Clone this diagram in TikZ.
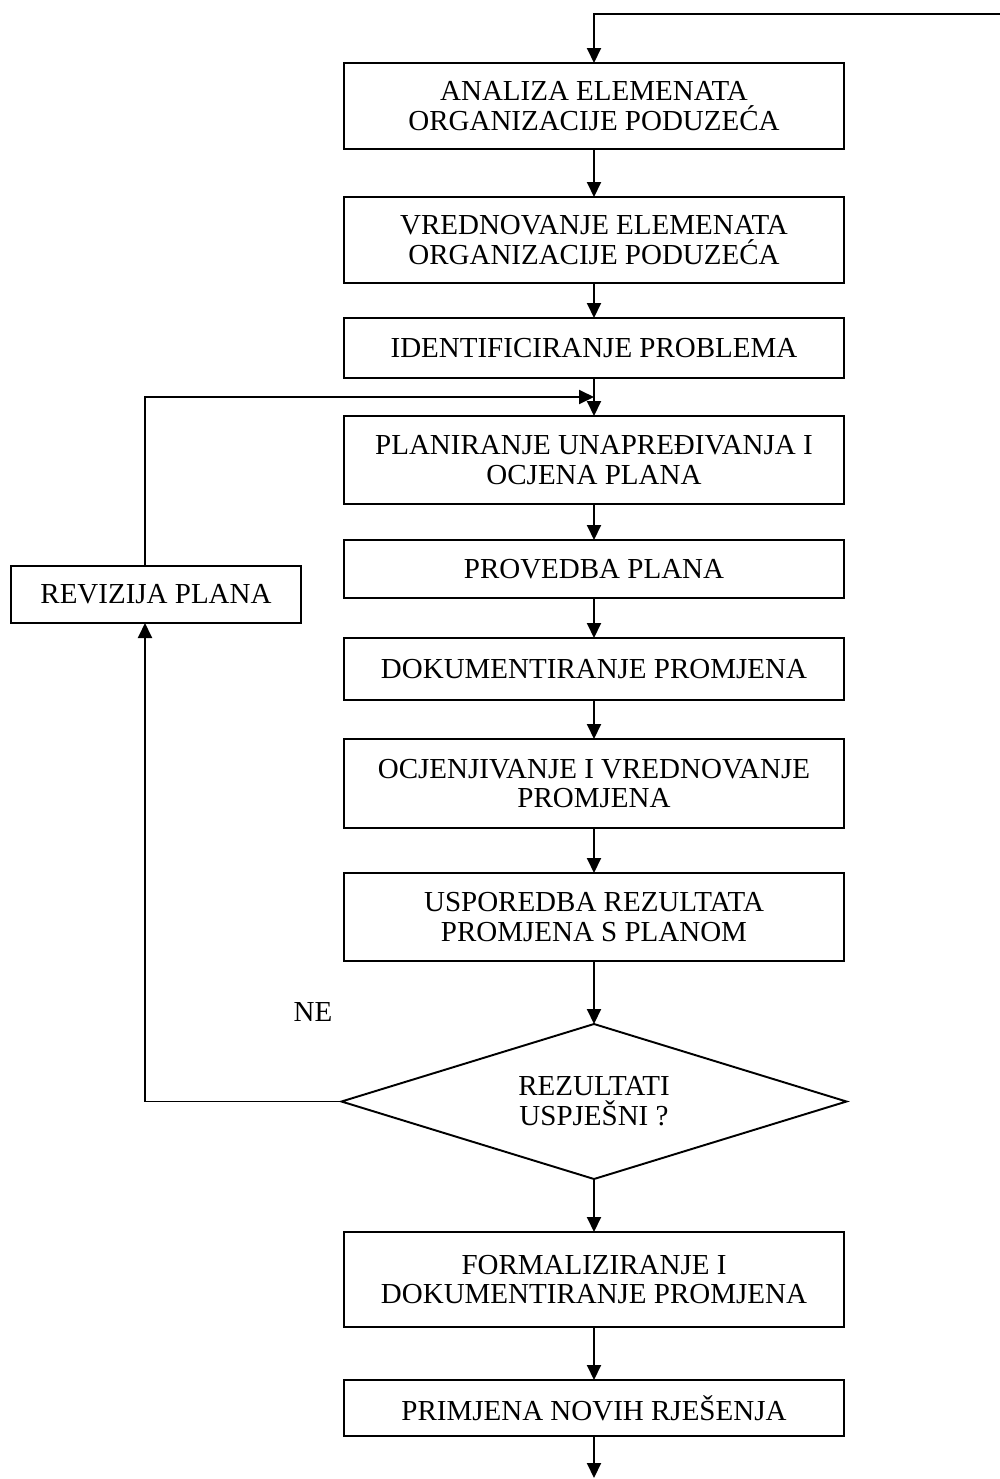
\documentclass[tikz,border=0pt]{standalone}
\usepackage{fontspec}
\setmainfont{Liberation Serif}
\usepackage{tikz}
\usetikzlibrary{positioning,arrows.meta,shapes.geometric,calc}

\begin{document}
\begin{tikzpicture}[node distance=0.8cm,line width=1.1pt,
  box/.style={draw,minimum width=10cm,minimum height=1.2cm,align=center,inner sep=2pt,outer sep=0pt,font=\fontsize{16.5}{17}\selectfont},
  odluka/.style={draw,diamond,aspect=3.26,minimum width=10.1cm,minimum height=3.1cm,inner sep=0pt,outer sep=0pt,align=center,font=\fontsize{16.5}{17}\selectfont},
  arr/.style={-{Triangle[length=0.3cm,width=0.28cm]}}]
\useasboundingbox (0,0) rectangle (20,-29.58);
\node[box,minimum height=1.72cm] (anal) at (11.88,-2.12) {ANALIZA ELEMENATA\\ORGANIZACIJE PODUZEĆA};
\node[box,minimum height=1.72cm,below=0.96cm of anal] (vred) {VREDNOVANJE ELEMENATA\\ORGANIZACIJE PODUZEĆA};
\node[box,below=0.7cm of vred] (ident) {IDENTIFICIRANJE PROBLEMA};
\node[box,minimum height=1.76cm,below=0.76cm of ident] (plan) {PLANIRANJE UNAPREĐIVANJA I\\OCJENA PLANA};
\node[box,minimum height=1.16cm,below=0.72cm of plan] (prov) {PROVEDBA PLANA};
\node[box,minimum height=1.24cm,below=of prov] (dok) {DOKUMENTIRANJE PROMJENA};
\node[box,minimum height=1.78cm,below=0.78cm of dok] (ocj) {OCJENJIVANJE I VREDNOVANJE\\PROMJENA};
\node[box,minimum height=1.76cm,below=0.9cm of ocj] (usp) {USPOREDBA REZULTATA\\PROMJENA S PLANOM};
\node[odluka,below=1.26cm of usp] (dec) {REZULTATI\\USPJEŠNI ?};
\node[box,minimum height=1.9cm,below=1.06cm of dec] (form) {FORMALIZIRANJE I\\DOKUMENTIRANJE PROMJENA};
\node[box,minimum height=1.12cm,below=1.06cm of form] (prim) {PRIMJENA NOVIH RJEŠENJA};
\node[box,minimum width=5.8cm,minimum height=1.14cm] (rev) at (3.12,-11.89) {REVIZIJA PLANA};
\node[font=\fontsize{16.5}{17}\selectfont] (ne) at (6.26,-20.24) {NE};
\coordinate (ret) at (20,-0.28);
\coordinate (jn) at ($(ident.south)!0.5!(plan.north)$);
\coordinate[below=0.84cm of prim] (kraj);
\draw[arr] (ret) -| (anal.north);
\draw[arr] (anal)--(vred); \draw[arr] (vred)--(ident); \draw[arr] (ident)--(plan); \draw[arr] (plan)--(prov);
\draw[arr] (prov)--(dok); \draw[arr] (dok)--(ocj); \draw[arr] (ocj)--(usp); \draw[arr] (usp)--(dec);
\draw[arr] (dec)--(form); \draw[arr] (form)--(prim); \draw[arr] (prim)--(kraj);
\draw[arr] (dec.west) -| ([xshift=-0.22cm]rev.south);
\draw[arr] ([xshift=-0.22cm]rev.north) |- (jn);
\end{tikzpicture}
\end{document}
